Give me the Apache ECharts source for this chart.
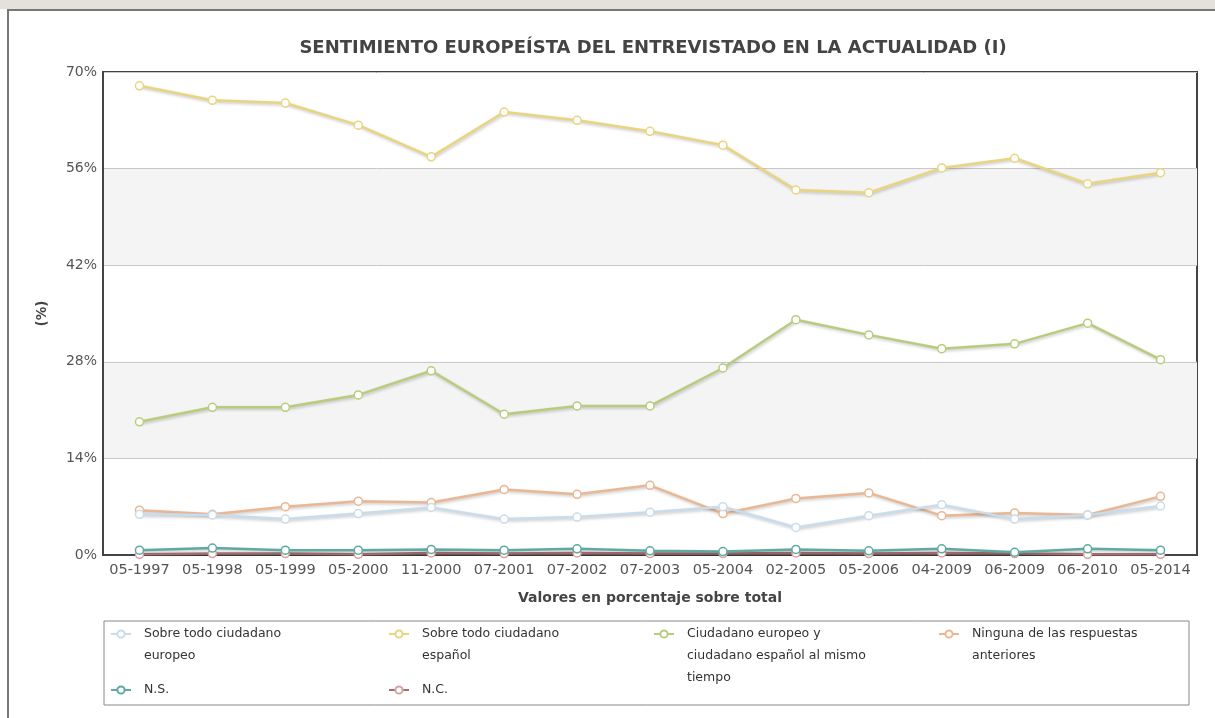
<!DOCTYPE html>
<html>
<head>
<meta charset="utf-8">
<script src="https://cdn.jsdelivr.net/npm/echarts@6/dist/echarts.min.js"></script>
<style>
html,body{margin:0;padding:0;background:#fff;}
#chart{width:1215px;height:718px;}
</style>
</head>
<body>
<div id="chart"></div>
<script>
var categories = ['05-1997','05-1998','05-1999','05-2000','11-2000','07-2001','07-2002','07-2003','05-2004','02-2005','05-2006','04-2009','06-2009','06-2010','05-2014'];
var yTicks = [0, 14, 28, 42, 56, 70];
var europeo = [5.9, 5.8, 5.2, 6.0, 6.9, 5.2, 5.5, 6.2, 7.0, 4.0, 5.7, 7.3, 5.2, 5.8, 7.1];
var espanol = [68.0, 65.9, 65.5, 62.3, 57.7, 64.2, 63.0, 61.4, 59.4, 52.9, 52.5, 56.1, 57.5, 53.8, 55.4];
var ambos = [19.3, 21.4, 21.4, 23.2, 26.7, 20.4, 21.6, 21.6, 27.1, 34.1, 31.9, 29.9, 30.6, 33.6, 28.3];
var ninguna = [6.5, 5.9, 7.0, 7.8, 7.6, 9.5, 8.8, 10.1, 6.0, 8.2, 9.0, 5.7, 6.1, 5.8, 8.5];
var ns = [0.7, 1.0, 0.7, 0.7, 0.8, 0.7, 0.9, 0.6, 0.5, 0.8, 0.6, 0.9, 0.4, 0.9, 0.7];
var nc = [0.1, 0.2, 0.2, 0.1, 0.3, 0.2, 0.3, 0.2, 0.2, 0.3, 0.2, 0.3, 0.2, 0.1, 0.1];

var seriesNames = [
  'Sobre todo ciudadano\neuropeo',
  'Sobre todo ciudadano\nespañol',
  'Ciudadano europeo y\nciudadano español al mismo\ntiempo',
  'Ninguna de las respuestas\nanteriores',
  'N.S.',
  'N.C.'
];
var seriesData = [europeo, espanol, ambos, ninguna, ns, nc];
var colors = ['#c9dcec', '#e9d57f', '#b7cd7d', '#e9b793', '#5fa9a5', '#a86f6f'];

var FONT = 'DejaVu Sans';
var LH = 22;

var series = seriesNames.map(function (n, i) {
  return {
    name: n,
    type: 'line',
    data: seriesData[i],
    symbol: 'circle',
    symbolSize: 8,
    z: 10 - i,
    lineStyle: {
      width: 2.5, color: colors[i],
      shadowColor: 'rgba(0,0,0,0.22)', shadowBlur: 3, shadowOffsetY: 1.5, shadowOffsetX: 1
    },
    itemStyle: { color: '#fff', borderColor: i === 5 ? '#d7a3a3' : colors[i], borderWidth: 1.5 },
    emphasis: { disabled: true }
  };
});

var legendPos = [
  [110, 634], [388, 634], [653, 634], [938, 634], [110, 690], [388, 690]
];
var legends = seriesNames.map(function (n, i) {
  var lines = n.split('\n').length;
  var boxH = (2 * lines - 1) * LH;
  return {
    data: [n],
    left: legendPos[i][0],
    top: legendPos[i][1] - boxH / 2,
    itemWidth: 20,
    itemHeight: 9,
    padding: 0,
    formatter: function (name) {
      var k = name.split('\n').length - 1;
      var pre = '';
      for (var j = 0; j < k; j++) pre += '\n';
      return pre + name;
    },
    textStyle: {
      fontFamily: FONT, fontSize: 12.5, color: '#333', lineHeight: LH,
      padding: [0, 0, 0, 8]
    },
    selectedMode: false
  };
});

var chart = echarts.init(document.getElementById('chart'));
chart.setOption({
  animation: false,
  backgroundColor: '#fff',
  title: {
    text: 'SENTIMIENTO EUROPEÍSTA DEL ENTREVISTADO EN LA ACTUALIDAD (I)',
    left: 648, top: 34, textAlign: 'center',
    textStyle: { fontFamily: FONT, fontSize: 18, fontWeight: 'bold', color: '#444' }
  },
  graphic: [
    { type: 'rect', shape: { x: 0, y: 0, width: 1215, height: 9 }, style: { fill: '#e4e1dc' }, silent: true },
    { type: 'rect', shape: { x: 8, y: 10, width: 1230, height: 720 }, style: { fill: 'none', stroke: '#777', lineWidth: 2 }, silent: true },
    { type: 'rect', shape: { x: 104, y: 621, width: 1085, height: 84 }, style: { fill: 'none', stroke: '#888', lineWidth: 1 }, silent: true }
  ],
  legend: legends,
  grid: {
    left: 103, right: 18, top: 72, bottom: 163,
    show: true, borderColor: '#444', borderWidth: 2, backgroundColor: 'transparent'
  },
  xAxis: {
    type: 'category',
    data: categories,
    boundaryGap: true,
    name: 'Valores en porcentaje sobre total',
    nameLocation: 'middle',
    nameGap: 36,
    nameTextStyle: { fontFamily: FONT, fontSize: 14, fontWeight: 'bold', color: '#444' },
    axisLine: { lineStyle: { color: '#444', width: 2 } },
    axisTick: { show: false },
    axisLabel: { fontFamily: FONT, fontSize: 14.5, color: '#555', margin: 8, interval: 0 }
  },
  yAxis: {
    type: 'value',
    min: yTicks[0], max: yTicks[yTicks.length - 1], interval: 14,
    name: '(%)',
    nameLocation: 'middle',
    nameGap: 54,
    nameRotate: 90,
    nameTextStyle: { fontFamily: FONT, fontSize: 13.5, fontWeight: 'bold', color: '#444' },
    axisLine: { show: true, lineStyle: { color: '#444', width: 2 } },
    axisTick: { show: false },
    axisLabel: { fontFamily: FONT, fontSize: 14, color: '#555', margin: 6, formatter: '{value}%' },
    splitLine: { lineStyle: { color: '#c8c8c8', width: 1 } },
    splitArea: { show: true, areaStyle: { color: ['rgba(255,255,255,0)', '#f4f4f4'] } }
  },
  series: series
});
</script>
</body>
</html>
